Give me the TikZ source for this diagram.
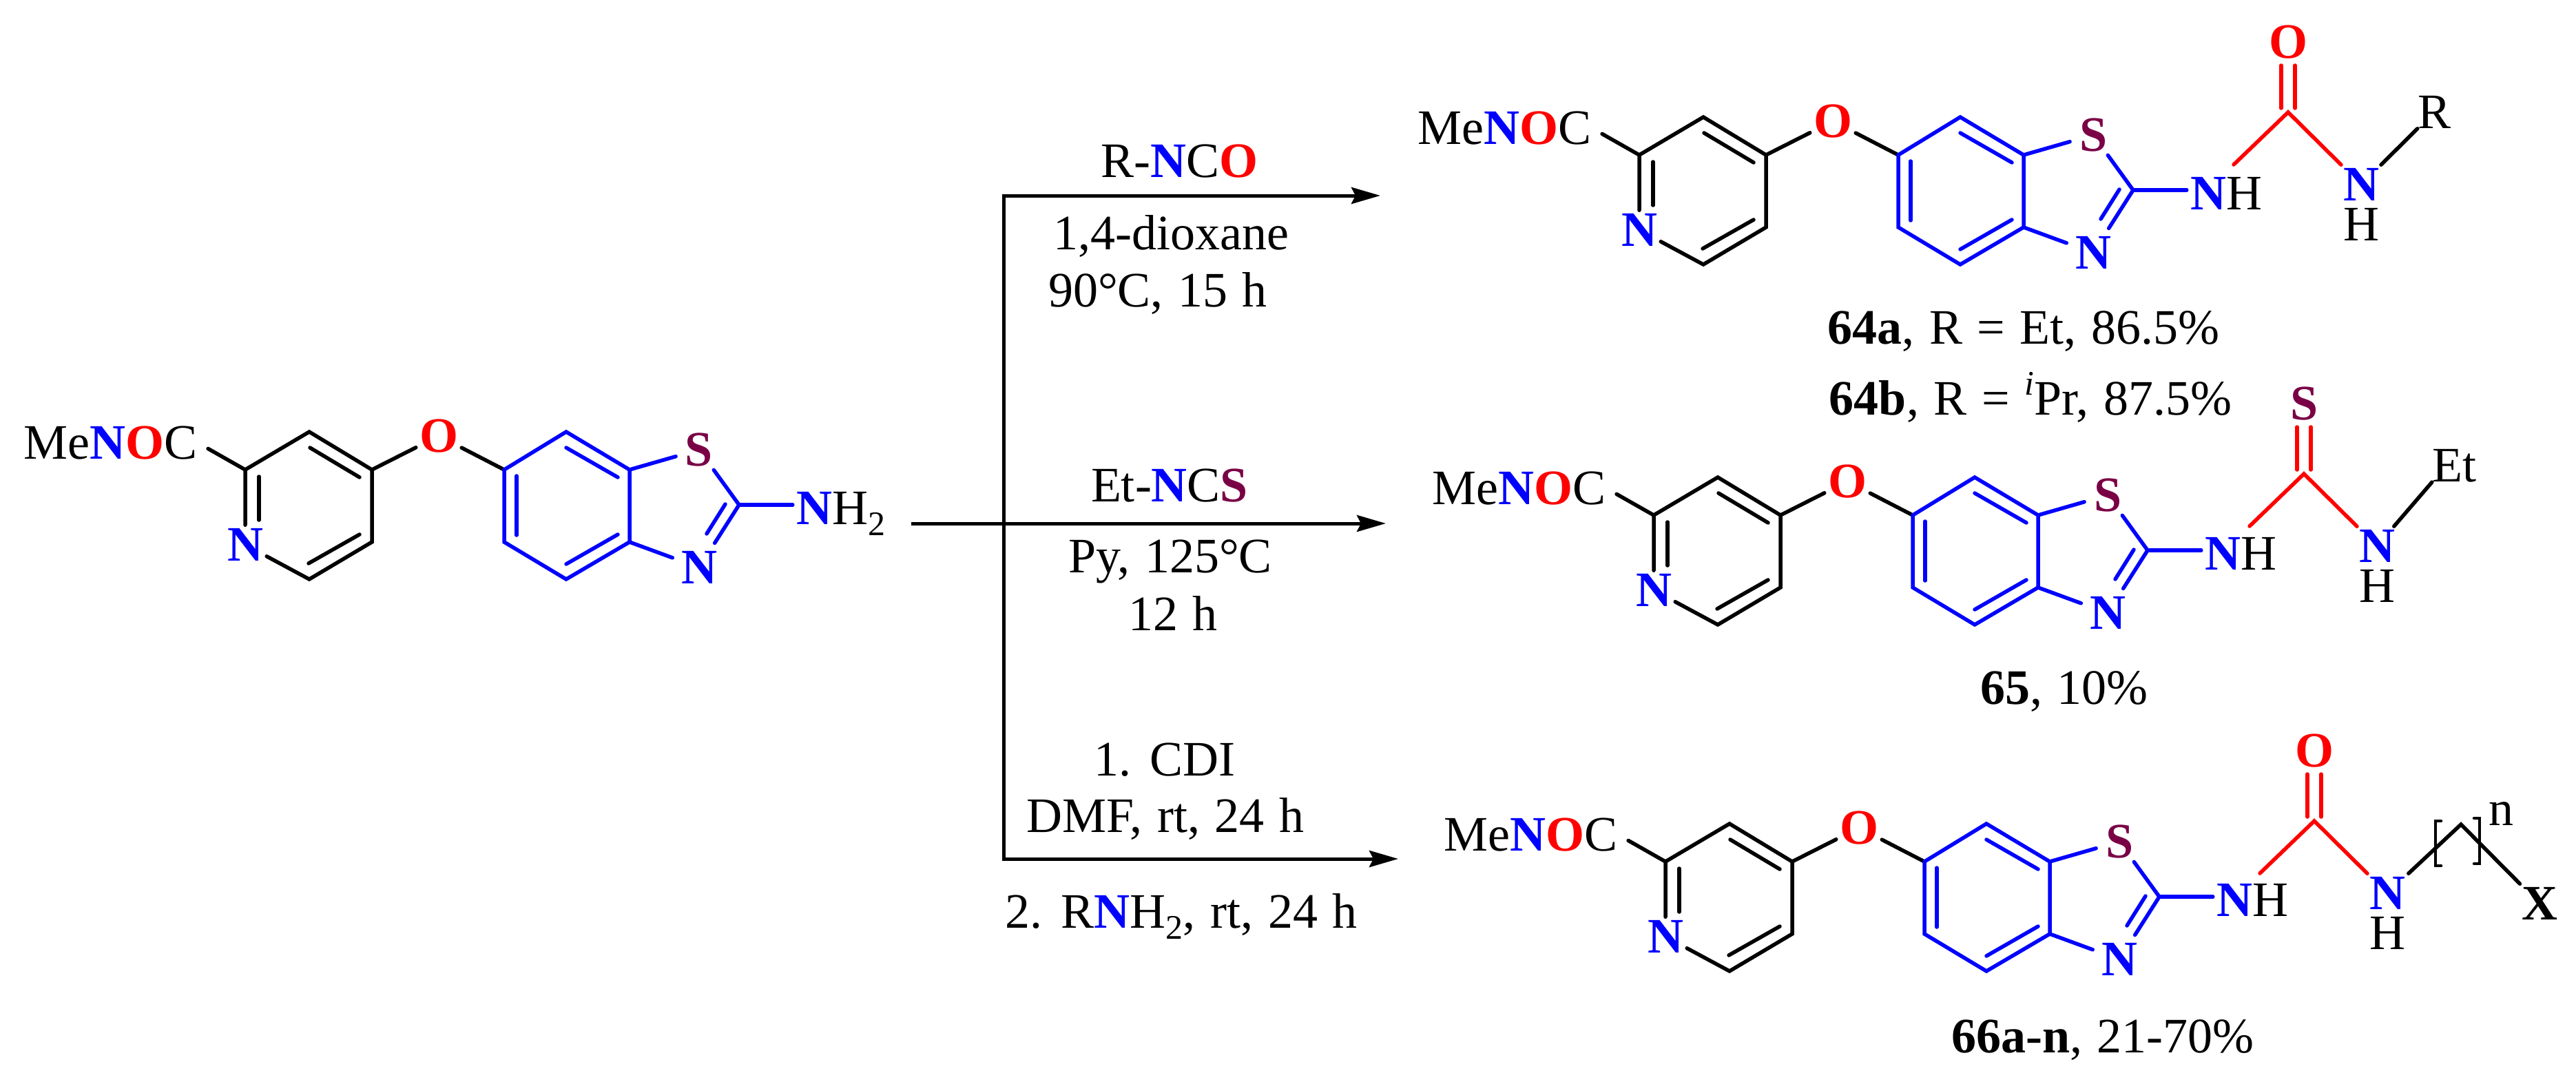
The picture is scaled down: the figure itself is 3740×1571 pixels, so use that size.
\documentclass[tikz,border=0pt]{standalone}
\usepackage{fontspec}
\setmainfont[WordSpace=1.2]{Liberation Serif}
\usetikzlibrary{arrows.meta,positioning}

\definecolor{atomblue}{RGB}{0,0,255}
\definecolor{atomred}{RGB}{255,0,0}
\definecolor{atompurple}{RGB}{122,0,70}

% Coloured hetero atoms and small text
\newcommand{\cN}{\textcolor{atomblue}{\textbf{N}}}
\newcommand{\cO}{\textcolor{atomred}{\textbf{O}}}
\newcommand{\cS}{\textcolor{atompurple}{\textbf{S}}}
\newcommand{\subtwo}{\raisebox{-16pt}{\fontsize{50}{50}\selectfont 2}}
\newcommand{\supi}{\raisebox{29pt}{\fontsize{50}{50}\selectfont\textit{i}}}

\tikzset{
    txt/.style={inner sep=0pt},
    reagent/.style={inner sep=0pt, anchor=base},
    atom/.style={inner sep=5pt},
    bond/.style={line width=5.5pt, line join=miter, line cap=round},
    bluebond/.style={bond, atomblue},
    redbond/.style={bond, atomred},
    arrowline/.style={line width=5pt, -{Stealth[length=42pt, width=24pt, inset=6pt]}},
    % Pyridyl ether and benzothiazole, drawn where the starting material stands
    pics/core/.style={code={
        \foreach \n/\x/\y in {c1/356/682, c2/449/627, c3/540/682, c4/540/787, c5/449/841,
                b1/732/682, b2/822/627, b3/914/682, b4/914/787, b5/822/841, b6/732/787, t/1073/733,
                pa/376/692, pb/376/755, pc/450/650, pd/522/693, pe/522/776, pf/448/818,
                ba/750/691, bb/750/777, bc/822/650, bd/897/693, be/897/776, bf/822/819,
                ta/1053/732, tb/1026/775}
            \coordinate (\n) at (\x,\y);
        \node[txt, anchor=base west] (menoc) at (34,666) {Me\cN\cO C};
        \node[atom] (pyn) at (356,791) {\cN};
        \node[atom] (ether) at (637,633) {\cO};
        \node[atom] (ths) at (1015,653) {\cS};
        \node[atom] (thn) at (1015,824) {\cN};
        \node[atom] (nh) at (1182,738) {\cN};
        % Black half
        \draw[bond] (pyn) -- (c1) -- (c2) -- (c3) -- (c4) -- (c5) -- (pyn);
        \draw[bond, shorten >=18pt] (c1) -- (menoc.east);
        \draw[bond] (c3) -- (ether);
        \draw[bond] (b1) -- (ether);
        \foreach \a/\b in {pa/pb, pc/pd, pe/pf}
            \draw[bond] (\a) -- (\b);
        % Blue half
        \draw[bluebond] (b1) -- (b2) -- (b3) -- (b4) -- (b5) -- (b6) -- cycle;
        \draw[bluebond, shorten >=9pt] (b3) -- (ths);
        \draw[bluebond, shorten >=8pt] (b4) -- (thn);
        \draw[bluebond] (ths) -- (t);
        \draw[bluebond, shorten >=8pt] (t) -- (thn);
        \draw[bluebond] (t) -- (nh.west |- t);
        \foreach \a/\b in {ba/bb, bc/bd, be/bf, ta/tb}
            \draw[bluebond] (\a) -- (\b);
    }},
    % Urea or thiourea group, with the apex carbon at the origin
    pics/tail/.style={code={
        \coordinate (apex) at (0,0);
        \coordinate (nhend) at (-79,76);
        \coordinate (dla) at (-10,-68);
        \coordinate (dlb) at (-10,-6);
        \coordinate (dra) at (10,-68);
        \coordinate (drb) at (10,-6);
        \node[atom] (top) at (0,-102) {#1};
        \node[atom] (tn) at (106,105) {\cN};
        \node[txt] (th) at (106,163) {H};
        \draw[redbond] (nhend) -- (apex) -- (tn);
        \draw[redbond] (dla) -- (dlb);
        \draw[redbond] (dra) -- (drb);
    }}
}

\begin{document}
\begin{tikzpicture}[x=1pt, y=-1pt, font=\fontsize{72}{80}\selectfont]
    \useasboundingbox (0,0) rectangle (3740,1571);

    % Starting material
    \pic (sm) at (0,0) {core};
    \node[txt, anchor=base west, xshift=-5pt] (smh) at (smnh.base east) {H\subtwo};

    % Reaction arrows
    \coordinate (stem) at (1323,760);
    \coordinate (fork) at (1457,760);
    \coordinate (tipa) at (2004,284);
    \coordinate (tipb) at (2012,760);
    \coordinate (tipc) at (2030,1247);
    \draw[arrowline] (fork) |- (tipa);
    \draw[arrowline] (stem) -- (tipb);
    \draw[arrowline] (fork) |- (tipc);

    % Conditions
    \node[reagent] (ra) at (1712,257) {R-\cN C\cO};
    \node[reagent] (rb) at (1700,362) {1,4-dioxane};
    \node[reagent] (rc) at (1681,445) {90°C, 15 h};
    \node[reagent] (rd) at (1698,728) {Et-\cN C\cS};
    \node[reagent] (re) at (1699,831) {Py, 125°C};
    \node[reagent] (rf) at (1703,915) {12 h};
    \node[reagent] (rg) at (1691,1126) {1. CDI};
    \node[reagent] (rh) at (1692,1208) {DMF, rt, 24 h};
    \node[reagent] (ri) at (1715,1347) {2. R\cN H\subtwo, rt, 24 h};

    % Product 64
    \pic (pa) at (2024,-457) {core};
    \node[txt, right=-5pt of panh] (pah) {H};
    \pic (pat) at (3322,163) {tail=\cO};
    \node[txt] (par) at (3534,163) {R};
    \draw[bond] (pattn) -- (par.south west);
    \node[reagent] (paa) at (2938,499) {\textbf{64a}, R = Et, 86.5\%};
    \node[reagent] (pab) at (2948,602) {\textbf{64b}, R = \supi Pr, 87.5\%};

    % Product 65
    \pic (pb) at (2045,66) {core};
    \node[txt, right=-5pt of pbnh] (pbh) {H};
    \pic (pbt) at (3345,688) {tail=\cS};
    \node[txt] (pbr) at (3563,676) {Et};
    \draw[bond] (pbttn) -- (pbr.south west);
    \node[reagent] (pbb) at (2997,1022) {\textbf{65}, 10\%};

    % Product 66
    \pic (pc) at (2062,569) {core};
    \node[txt, right=-5pt of pcnh] (pch) {H};
    \pic (pct) at (3360,1192) {tail=\cO};
    \coordinate (chain) at (3573,1197);
    \coordinate (bla) at (3536,1192);
    \coordinate (blb) at (3536,1257);
    \coordinate (bra) at (3600,1188);
    \coordinate (brb) at (3600,1254);
    \node[atom] (pcx) at (3687,1312) {\textbf{X}};
    \node[txt] (pcn) at (3631,1182) {n};
    \draw[bond] (pcttn) -- (chain) -- (pcx);
    \draw[bond, line width=4.5pt] (bla) ++(8,0) -- (bla) -- (blb) -- ++(8,0);
    \draw[bond, line width=4.5pt] (bra) ++(-8,0) -- (bra) -- (brb) -- ++(-8,0);
    \node[reagent] (pcc) at (3053,1528) {\textbf{66a-n}, 21-70\%};
\end{tikzpicture}
\end{document}
